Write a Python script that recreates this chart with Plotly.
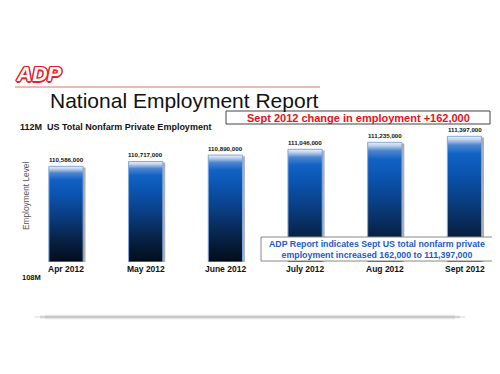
import plotly.graph_objects as go

months = ["Apr 2012", "May 2012", "June 2012", "July 2012", "Aug 2012", "Sept 2012"]
employment = [110586000, 110717000, 110890000, 111046000, 111235000, 111397000]
value_labels = ["110,586,000", "110,717,000", "110,890,000", "111,046,000", "111,235,000", "111,397,000"]
y_base = 108000000
y_top = 112000000

OFF = 8  # page body margin
W, H = 500 - OFF, 374 - OFF
PL, PR, PT, PB = 20, 490, 114, 262
L, R, T, B = PL - OFF, W - (PR - OFF), PT - OFF, H - (PB - OFF)
PW, PH = PR - PL, PB - PT

def px(x):
    return (x - PL) / PW

def py(y):
    return (PB - y) / PH

FONT = "Arial, Liberation Sans, sans-serif"
half = 0.215
step = 79.7

fig = go.Figure()
colorscale = [
    [0.0, "#020c1a"],
    [0.25, "#08244a"],
    [0.5, "#0a3f85"],
    [0.72, "#0b55b2"],
    [0.86, "#1262c4"],
    [0.93, "#4d86cf"],
    [0.97, "#b9cde9"],
    [1.0, "#eef3fa"],
]
for i, v in enumerate(employment):
    dx, dy = 0.03, 30000
    fig.add_trace(go.Scatter(
        x=[i - half + dx, i + half + dx, i + half + dx, i - half + dx, i - half + dx],
        y=[y_base, y_base, v - dy, v - dy, y_base],
        fill="toself", mode="lines", line=dict(width=0),
        fillcolor="rgba(80,80,80,0.45)", hoverinfo="skip", showlegend=False))
    fig.add_trace(go.Scatter(
        x=[i - half, i + half, i + half, i - half, i - half],
        y=[y_base, y_base, v, v, y_base],
        fill="toself", mode="lines", line=dict(width=1, color="#7fa8e0"),
        fillgradient=dict(type="vertical", colorscale=colorscale, start=y_base, stop=v),
        hoverinfo="skip", showlegend=False))

annotations = []
for i, (v, t) in enumerate(zip(employment, value_labels)):
    annotations.append(dict(x=i, y=v, xref="x", yref="y", text=t, showarrow=False,
                            yanchor="bottom", yshift=1,
                            font=dict(family=FONT, size=6.2, color="#111", weight="bold")))
    annotations.append(dict(x=i, y=py(269), xref="x", yref="paper", text=months[i],
                            showarrow=False, yanchor="middle",
                            font=dict(family=FONT, size=8.5, color="#111", weight="bold")))

def txt(x, y, text, size, color="#111", bold=False, xanchor="left", **kw):
    d = dict(x=px(x), y=py(y), xref="paper", yref="paper", text=text, showarrow=False,
             xanchor=xanchor, yanchor="middle",
             font=dict(family=FONT, size=size, color=color, weight="bold" if bold else "normal"))
    d.update(kw)
    annotations.append(d)

red = "#e8202a"
annotations.append(dict(x=px(14), y=py(73), xref="paper", yref="paper", text="<i>ADP</i>",
                        showarrow=False, xanchor="left", yanchor="middle",
                        font=dict(family=FONT, size=21, color="white", weight="bold",
                                  shadow=f"1.5px 0 0 {red}, -1.5px 0 0 {red}, 0 1.5px 0 {red}, 0 -1.5px 0 {red}, 1px 1px 0 {red}, -1px -1px 0 {red}, 1px -1px 0 {red}, -1px 1px 0 {red}")))
txt(48, 100, "National Employment Report", 21, color="#111")
txt(18, 127, "112M  US Total Nonfarm Private Employment", 9, bold=True)
txt(20, 277, "108M", 7.5, bold=True)
annotations.append(dict(x=px(26), y=py(196), xref="paper", yref="paper", text="Employment Level",
                        showarrow=False, textangle=-90, xanchor="center", yanchor="middle",
                        font=dict(family=FONT, size=8.3, color="#555")))
txt(358, 117.5, "Sept 2012 change in employment +162,000", 11, color="#e8101a", bold=True, xanchor="center")
annotations.append(dict(x=px(377), y=py(249), xref="paper", yref="paper",
                        text="ADP Report indicates Sept US total nonfarm private<br>employment increased 162,000 to 111,397,000",
                        showarrow=False, xanchor="center", yanchor="middle",
                        font=dict(family=FONT, size=8.8, color="#1a5cc8", weight="bold")))

shapes = [
    dict(type="line", xref="paper", yref="paper", x0=px(15), x1=px(320), y0=py(87), y1=py(87),
         line=dict(color="#e86a6a", width=1)),
    dict(type="rect", xref="paper", yref="paper", x0=px(226), x1=px(490), y0=py(111), y1=py(124),
         line=dict(color="#444", width=1), fillcolor="white"),
    dict(type="rect", xref="paper", yref="paper", x0=px(261), x1=px(494), y0=py(237), y1=py(261),
         line=dict(color="#888", width=1), fillcolor="white", layer="above"),
]
for k, (op, w) in enumerate([(0.05, 5), (0.1, 3), (0.15, 1)]):
    shapes.append(dict(type="line", xref="paper", yref="paper", x0=px(45 - 5 * k), x1=px(455 + 5 * k),
                       y0=py(317), y1=py(317), line=dict(color=f"rgba(0,0,0,{op})", width=w)))

x0 = -(66 - PL) / step
fig.update_layout(
    width=W, height=H, margin=dict(l=L, r=R, t=T, b=B),
    paper_bgcolor="white", plot_bgcolor="white",
    xaxis=dict(range=[x0, x0 + PW / step], visible=False, fixedrange=True),
    yaxis=dict(range=[y_base, y_top], visible=False, fixedrange=True),
    annotations=annotations, shapes=shapes, hovermode=False, showlegend=False,
)
fig.write_html("out.html")
